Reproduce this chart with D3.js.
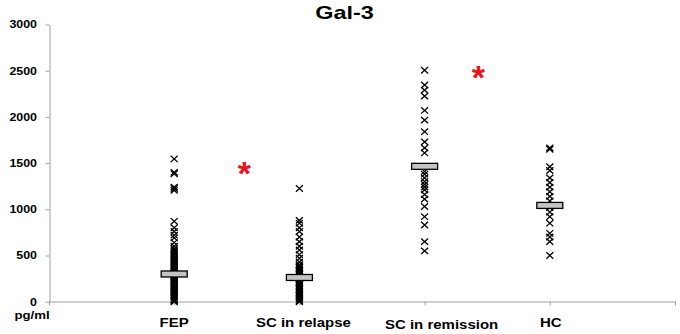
<!DOCTYPE html>
<html>
<head>
<meta charset="utf-8">
<script src="https://cdn.jsdelivr.net/npm/d3@7"></script>
<style>
  body { margin: 0; background: #fff; }
  text { font-family: Arial, "Liberation Sans", sans-serif; }
</style>
</head>
<body>
<div id="gal3_plot"></div>
<script>
// values (pg/ml)
const groups = ["FEP", "SC in relapse", "SC in remission", "HC"];
const fep = [1545, 1400, 1385, 1240, 1225, 1205, 870, 800, 760, 720, 690, 640, 600, 575, 560, 540, 520, 505,
  490, 470, 455, 440, 430, 415, 400, 385, 370, 360, 345, 330, 320, 305, 295, 285, 270, 260, 245, 235, 220,
  210, 195, 180, 170, 155, 140, 130, 115, 100, 90, 75, 60, 50, 35, 20, 10, 0];
const scRelapse = [1225, 880, 850, 800, 760, 700, 650, 600, 560, 510, 470, 430, 400, 385, 370, 355, 340, 325,
  310, 295, 280, 265, 250, 235, 220, 205, 190, 175, 160, 145, 130, 115, 100, 85, 70, 55, 40, 25, 10, 0];
const scRemission = [2505, 2345, 2290, 2225, 2070, 1965, 1840, 1730, 1665, 1610, 1460, 1410, 1380, 1340, 1300,
  1270, 1240, 1210, 1160, 1110, 1030, 920, 830, 650, 550];
const hc = [1665, 1650, 1460, 1420, 1340, 1290, 1240, 1190, 1140, 1090, 1020, 970, 920, 850, 740, 700, 650, 500];
const medians = [300, 262, 1465, 1042];
const yTicks = [0, 500, 1000, 1500, 2000, 2500, 3000];
// significance stars (x in group units, y in pg/ml)
const starX = [1.56, 3.43];
const starY = [1440, 2470];
// small nudges of the category labels, like in the original
const labelDx = [0, 4, 17, 1];
const labelDy = [0, 0, 2, 0];

const series = [fep, scRelapse, scRemission, hc];

const width = 680, height = 334;
const svg = d3.select("#gal3_plot")
  .append("svg")
    .attr("width", width)
    .attr("height", height);

const x = d3.scaleLinear().domain([0, 5]).range([49, 675]);
const y = d3.scaleLinear().domain([0, 3000]).range([301.7, 24.5]);
const axisColor = "#a0a0a0";

// Y axis
const gy = svg.append("g")
  .attr("transform", "translate(49.5,0)")
  .call(d3.axisLeft(y).tickValues(yTicks).tickSize(4).tickSizeOuter(0).tickFormat(""));
gy.selectAll("path, line").attr("stroke", axisColor);

svg.append("g").selectAll("text")
  .data(yTicks)
  .join("text")
    .attr("transform", d => `translate(37,${y(d) + 3.8}) scale(1.18,1)`)
    .attr("text-anchor", "end")
    .attr("font-size", 10.5)
    .attr("font-weight", "bold")
    .text(d => d);

// X axis
const gx = svg.append("g")
  .attr("transform", "translate(0,301.5)")
  .call(d3.axisBottom(x).tickValues([0, 1, 2, 3, 4, 5]).tickSize(4).tickSizeOuter(0).tickFormat(""));
gx.selectAll("path, line").attr("stroke", axisColor);

svg.append("g").selectAll("text")
  .data(groups)
  .join("text")
    .attr("transform", (d, i) => `translate(${x(i + 1) + labelDx[i]},${327 + labelDy[i]}) scale(1.2,1)`)
    .attr("text-anchor", "middle")
    .attr("font-size", 12.5)
    .attr("font-weight", "bold")
    .text(d => d);

svg.append("text")
  .attr("transform", "translate(32,319) scale(1.2,1)")
  .attr("text-anchor", "middle")
  .attr("font-size", 11)
  .attr("font-weight", "bold")
  .text("pg/ml");

// title
svg.append("text")
  .attr("transform", "translate(344.5,19) scale(1.3,1)")
  .attr("text-anchor", "middle")
  .attr("font-size", 18)
  .attr("font-weight", "bold")
  .text("Gal-3");

// markers
const cross = "M-3.5,-3.2L3.5,3.2M-3.5,3.2L3.5,-3.2";
series.forEach((vals, i) => {
  svg.append("g").selectAll("path")
    .data(vals)
    .join("path")
      .attr("transform", d => `translate(${x(i + 1)},${y(d)})`)
      .attr("d", cross)
      .attr("fill", "none")
      .attr("stroke", "#000")
      .attr("stroke-width", 1.3);
});

// median bars
svg.append("g").selectAll("rect")
  .data(medians)
  .join("rect")
    .attr("x", (d, i) => x(i + 1) - 13)
    .attr("y", d => y(d) - 3)
    .attr("width", 26)
    .attr("height", 6)
    .attr("fill", "#c4c4c4")
    .attr("stroke", "#000")
    .attr("stroke-width", 1.3);

// significance
svg.append("g").selectAll("text")
  .data(starX)
  .join("text")
    .attr("x", d => x(d))
    .attr("y", (d, i) => y(starY[i]) + 16)
    .attr("text-anchor", "middle")
    .attr("font-size", 34)
    .attr("font-weight", "bold")
    .attr("fill", "#e8141b")
    .text("*");
</script>
</body>
</html>
